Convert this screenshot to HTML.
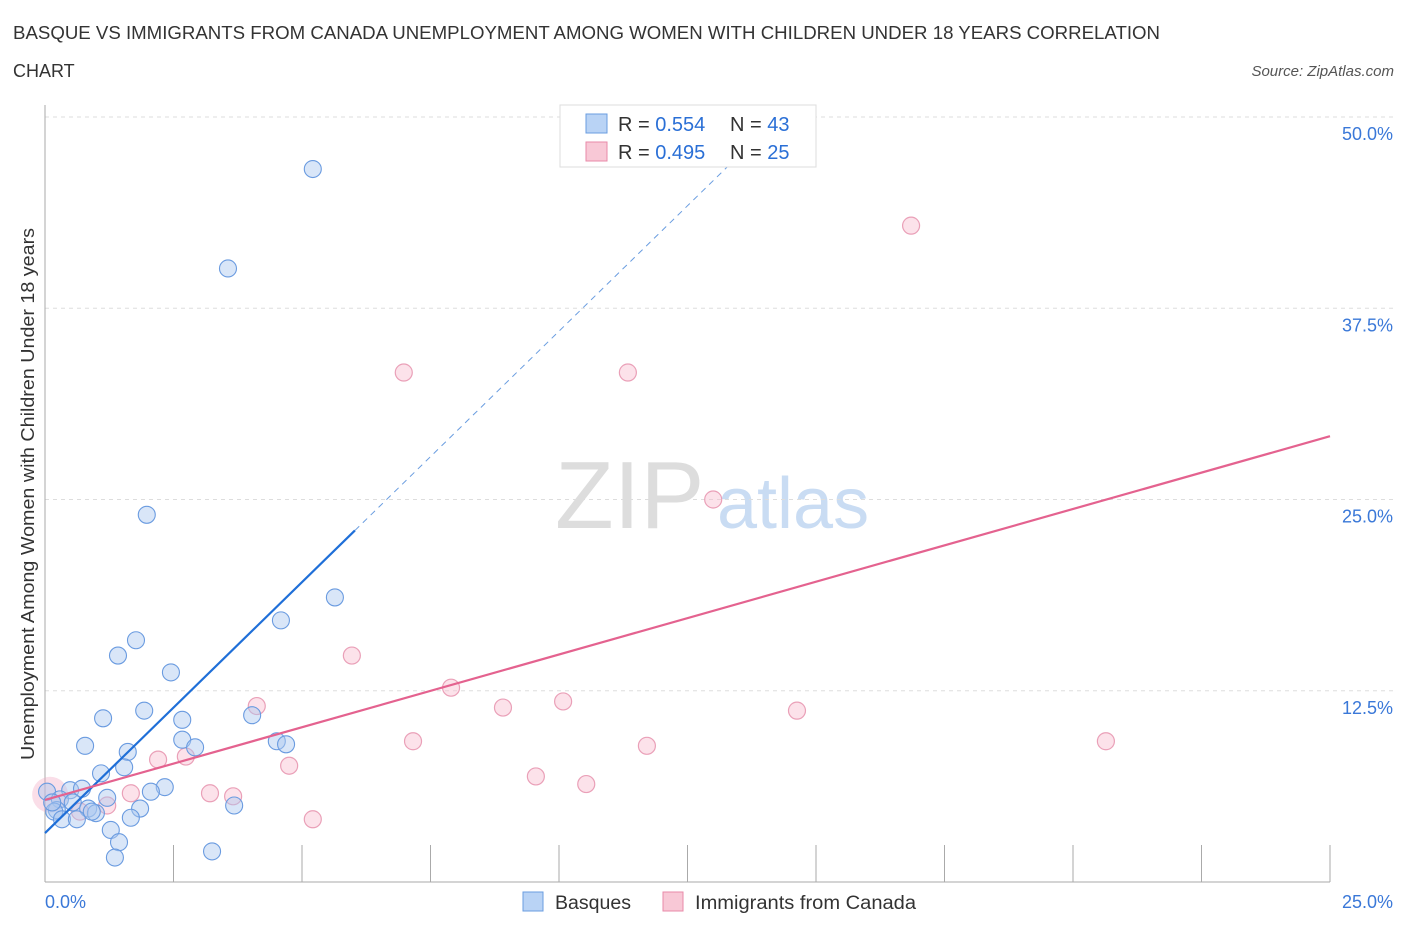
<!DOCTYPE html>
<html><head><meta charset="utf-8"><style>
body{margin:0;background:#fff;font-family:"Liberation Sans",sans-serif;}
svg text{font-family:"Liberation Sans",sans-serif;}
</style></head><body>
<svg id="chart" width="1406" height="930" xmlns="http://www.w3.org/2000/svg">
<text x="13" y="39" font-size="18" fill="#333" textLength="1147" lengthAdjust="spacingAndGlyphs">BASQUE VS IMMIGRANTS FROM CANADA UNEMPLOYMENT AMONG WOMEN WITH CHILDREN UNDER 18 YEARS CORRELATION</text>
<text x="13" y="77" font-size="18" fill="#333">CHART</text>
<text x="1394" y="76" font-size="15" fill="#555" text-anchor="end" font-style="italic">Source: ZipAtlas.com</text>
<text transform="translate(34,494) rotate(-90)" font-size="18" fill="#333" text-anchor="middle" textLength="532" lengthAdjust="spacingAndGlyphs">Unemployment Among Women with Children Under 18 years</text>
<text x="555" y="528" font-size="96" fill="#ddd" font-family="Liberation Serif">ZIP</text>
<text x="717" y="528" font-size="72" fill="#c9dcf3">atlas</text>
<g id="grid"></g><g id="marks"></g>
<g>
<rect x="560" y="105" width="256" height="62" fill="#fff" stroke="#ddd"/>
<rect x="586" y="114" width="21" height="19" fill="#b9d3f5" stroke="#6a9de0"/>
<text x="618" y="131" font-size="20" fill="#333">R = <tspan fill="#2a6fd6">0.554</tspan></text>
<text x="730" y="131" font-size="20" fill="#333">N = <tspan fill="#2a6fd6">43</tspan></text>
<rect x="586" y="142" width="21" height="19" fill="#f8c8d6" stroke="#e88aa8"/>
<text x="618" y="159" font-size="20" fill="#333">R = <tspan fill="#2a6fd6">0.495</tspan></text>
<text x="730" y="159" font-size="20" fill="#333">N = <tspan fill="#2a6fd6">25</tspan></text>
</g>
<g>
<rect x="523" y="892" width="20" height="19" fill="#b9d3f5" stroke="#6a9de0"/>
<text x="555" y="909" font-size="19" fill="#333" textLength="76" lengthAdjust="spacingAndGlyphs">Basques</text>
<rect x="663" y="892" width="20" height="19" fill="#f8c8d6" stroke="#e88aa8"/>
<text x="695" y="909" font-size="19" fill="#333" textLength="221" lengthAdjust="spacingAndGlyphs">Immigrants from Canada</text>
</g>
</svg>
<script>
const blueX=[5.21,3.56,1.98,5.64,4.59,1.77,1.42,2.45,1.13,1.93,2.67,4.03,0.78,2.67,2.92,4.51,4.69,1.61,1.54,1.09,2.33,2.06,0.49,0.72,1.21,0.04,0.29,0.54,0.23,0.18,0.84,0.99,1.85,3.68,0.33,0.62,1.67,1.28,1.44,1.36,3.25,0.91,0.14];
const blueY=[46.6,40.1,24.0,18.6,17.1,15.8,14.8,13.7,10.7,11.2,10.6,10.9,8.9,9.3,8.8,9.2,9.0,8.5,7.5,7.1,6.2,5.9,6.0,6.1,5.5,5.9,5.4,5.2,4.7,4.6,4.8,4.5,4.8,5.0,4.1,4.1,4.2,3.4,2.6,1.6,2.0,4.6,5.2];
const pinkX=[16.85,6.98,11.34,13.0,5.97,7.9,8.91,10.08,14.63,20.64,4.12,7.16,11.71,2.2,2.74,4.75,9.55,10.53,1.67,3.21,3.66,5.21,1.21,0.68,0.1];
const pinkY=[42.9,33.3,33.3,25.0,14.8,12.7,11.4,11.8,11.2,9.2,11.5,9.2,8.9,8.0,8.2,7.6,6.9,6.4,5.8,5.8,5.6,4.1,5.0,4.6,5.7];
const yTicks=[12.5,25,37.5,50];
const yTickLabels=["12.5%","25.0%","37.5%","50.0%"];
const blueFit=[3.2,3.28]; // intercept, slope
const pinkFit=[5.36,0.951];
const X0=45,X1=1330,Y0=882,PPY=15.3;
const sx=v=>X0+(X1-X0)*v/25, sy=v=>Y0-v*PPY;
const NS="http://www.w3.org/2000/svg";
const grid=document.getElementById('grid'),marks=document.getElementById('marks');
function mk(tag,attrs,parent){const e=document.createElementNS(NS,tag);for(const k in attrs)e.setAttribute(k,attrs[k]);parent.appendChild(e);return e;}
yTicks.forEach((t,i)=>{
 const l=mk('line',{x1:X0,x2:1395,y1:sy(t),y2:sy(t),stroke:'#ddd','stroke-dasharray':'4,4'},grid);
 
 
 const tx=mk('text',{x:1393,y:sy(t)+23,'font-size':18,fill:'#3a78d8','text-anchor':'end'},grid);
 tx.textContent=yTickLabels[i];
 
 
});
const ax=mk('line',{x1:X0,x2:X0,y1:105,y2:Y0,stroke:'#aaa'},grid);


const bx=mk('line',{x1:X0,x2:X1,y1:Y0,y2:Y0,stroke:'#aaa'},grid);


for(let i=1;i<=10;i++){const t=mk('line',{x1:sx(i*2.5),x2:sx(i*2.5),y1:845,y2:Y0,stroke:'#aaa'},grid);
 
 }
[[0,"0.0%","start",45],[25,"25.0%","end",1393]].forEach(d=>{const t=mk('text',{x:d[3],y:908,'font-size':18,fill:'#3a78d8','text-anchor':d[2]},grid);t.textContent=d[1];
 
 });
const bigP=mk('circle',{cx:sx(pinkX[24]),cy:sy(pinkY[24]),r:18,fill:'rgba(240,160,190,0.35)',stroke:'none'},marks);


for(let i=0;i<pinkX.length-1;i++){const c=mk('circle',{cx:sx(pinkX[i]),cy:sy(pinkY[i]),r:8.5,fill:'rgba(248,190,208,0.45)',stroke:'#eaa0b8','stroke-width':1.2},marks);
 
 }
for(let i=0;i<blueX.length;i++){const c=mk('circle',{cx:sx(blueX[i]),cy:sy(blueY[i]),r:8.5,fill:'rgba(170,200,240,0.45)',stroke:'#6a9be0','stroke-width':1.1},marks);
 
 }
const bEnd=6.03,bDash=(50-blueFit[0])/blueFit[1];
const bl=mk('line',{x1:sx(0),y1:sy(blueFit[0]),x2:sx(bEnd),y2:sy(blueFit[0]+blueFit[1]*bEnd),stroke:'#1f6fd8','stroke-width':2.2},marks);


const bd=mk('line',{x1:sx(bEnd),y1:sy(blueFit[0]+blueFit[1]*bEnd),x2:sx(bDash),y2:sy(50),stroke:'#6a9de0','stroke-width':1,'stroke-dasharray':'6,5'},marks);


const pl=mk('line',{x1:sx(0),y1:sy(pinkFit[0]),x2:sx(25),y2:sy(pinkFit[0]+pinkFit[1]*25),stroke:'#e4628f','stroke-width':2.2},marks);


</script>
</body></html>
